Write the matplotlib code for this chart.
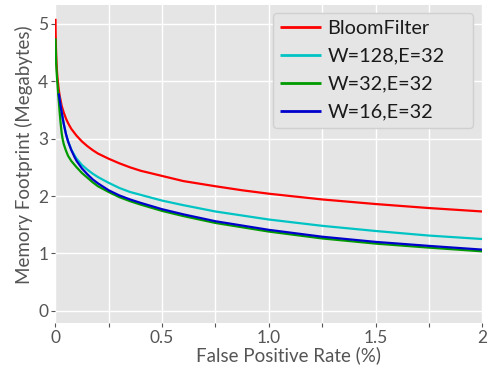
import matplotlib
matplotlib.use("Agg")
import matplotlib.pyplot as plt

plt.rcParams['font.family'] = ['Lato', 'DejaVu Sans']

# False positive rate (%) sample points and memory footprint (MB)
x_bloom = [0.001, 0.0015, 0.002, 0.003, 0.005, 0.0075, 0.01, 0.015, 0.02, 0.03, 0.04,
           0.05, 0.06, 0.075, 0.1, 0.125, 0.15, 0.175, 0.2, 0.25, 0.3, 0.35, 0.4,
           0.5, 0.6, 0.75, 0.875, 1.0, 1.25, 1.5, 1.75, 2.0]
y_bloom = [5.09, 4.91, 4.78, 4.60, 4.38, 4.20, 4.07, 3.89, 3.76, 3.57, 3.45,
           3.35, 3.27, 3.17, 3.05, 2.95, 2.87, 2.80, 2.74, 2.65, 2.57, 2.50, 2.44,
           2.35, 2.26, 2.17, 2.10, 2.04, 1.94, 1.86, 1.79, 1.73]

x_w128 = [0.016, 0.02, 0.025, 0.03, 0.035, 0.04, 0.05, 0.06, 0.075, 0.09, 0.1, 0.125,
          0.15, 0.175, 0.2, 0.25, 0.3, 0.35, 0.4, 0.5, 0.6, 0.75, 0.875, 1.0, 1.25,
          1.5, 1.75, 2.0]
y_w128 = [3.79, 3.69, 3.57, 3.46, 3.35, 3.25, 3.08, 2.95, 2.81, 2.71, 2.65, 2.54,
          2.46, 2.39, 2.33, 2.23, 2.14, 2.07, 2.02, 1.92, 1.84, 1.73, 1.66, 1.59, 1.48,
          1.39, 1.31, 1.25]

x_w32 = [0.001, 0.002, 0.004, 0.006, 0.008, 0.01, 0.0125, 0.015, 0.0175, 0.02, 0.025,
         0.03, 0.035, 0.04, 0.05, 0.06, 0.075, 0.1, 0.125, 0.15, 0.175, 0.2, 0.25,
         0.3, 0.35, 0.4, 0.5, 0.6, 0.75, 1.0, 1.25, 1.5, 1.75, 2.0]
y_w32 = [4.75, 4.58, 4.33, 4.18, 4.06, 3.96, 3.84, 3.72, 3.60, 3.48, 3.27,
         3.09, 2.98, 2.90, 2.79, 2.70, 2.61, 2.50, 2.40, 2.32, 2.24, 2.17, 2.07,
         1.98, 1.91, 1.85, 1.74, 1.65, 1.53, 1.38, 1.26, 1.17, 1.10, 1.035]

x_w16 = [0.016, 0.02, 0.025, 0.03, 0.035, 0.04, 0.05, 0.06, 0.075, 0.09, 0.1, 0.125,
         0.15, 0.175, 0.2, 0.25, 0.3, 0.35, 0.4, 0.5, 0.6, 0.75, 1.0, 1.25, 1.5,
         1.75, 2.0]
y_w16 = [3.79, 3.69, 3.57, 3.46, 3.35, 3.25, 3.08, 2.95, 2.80, 2.68, 2.61, 2.48,
         2.38, 2.29, 2.22, 2.10, 2.01, 1.94, 1.88, 1.77, 1.68, 1.56, 1.41, 1.29, 1.20,
         1.13, 1.065]

series_labels = ["BloomFilter", "W=128,E=32", "W=32,E=32", "W=16,E=32"]
series_colors = ["#ff0000", "#00c4c4", "#009a00", "#0000cc"]

x_ticks = [0, 0.25, 0.5, 0.75, 1.0, 1.25, 1.5, 1.75, 2.0]
x_ticklabels = ["0", "", "0.5", "", "1.0", "", "1.5", "", "2"]
y_ticks = [0, 1, 2, 3, 4, 5]
y_ticklabels = ["0", "1", "2", "3", "4", "5"]

fig = plt.figure(figsize=(4.99, 3.69), dpi=100)
ax = fig.add_axes([0.1108, 0.1255, 0.8557, 0.8609])
ax.set_facecolor("#e5e5e5")

xs = [x_bloom, x_w128, x_w32, x_w16]
ys = [y_bloom, y_w128, y_w32, y_w16]
for xv, yv, lab, col in zip(xs, ys, series_labels, series_colors):
    ax.plot(xv, yv, color=col, lw=1.6, label=lab, solid_capstyle='butt')

ax.set_xlim(0, 2)
ax.set_ylim(-0.209, 5.33)
ax.set_xticks(x_ticks)
ax.set_xticklabels(x_ticklabels)
ax.set_yticks(y_ticks)
ax.set_yticklabels(y_ticklabels)
ax.grid(True, color="white", lw=1.0)
ax.set_axisbelow(True)
for s in ax.spines.values():
    s.set_visible(False)
ax.tick_params(axis='both', colors="#555555", labelcolor="#555555", length=3,
               width=0.8, labelsize=12.5, pad=2)

ax.set_xlabel("False Positive Rate (%)", color="#555555", fontsize=13.5, labelpad=0)
ax.xaxis.set_label_coords(0.545, -0.075)
ax.set_ylabel("Memory Footprint (Megabytes)", color="#555555", fontsize=13.5, labelpad=4)
ax.yaxis.get_label().set_y(0.528)

leg = ax.legend(loc="upper left", bbox_to_anchor=(0.5098, 0.600, 0.468, 0.375),
                mode="expand", fontsize=14.3, frameon=True, facecolor="#e5e5e5",
                edgecolor="#d0d0d0", framealpha=1.0, handlelength=2.05,
                handletextpad=0.35, borderpad=0.35, borderaxespad=0.0,
                labelspacing=0.55)
for t in leg.get_texts():
    t.set_color("#1a1a1a")
for h in leg.get_lines():
    h.set_linewidth(2.0)

fig.savefig("out.png", dpi=100)
